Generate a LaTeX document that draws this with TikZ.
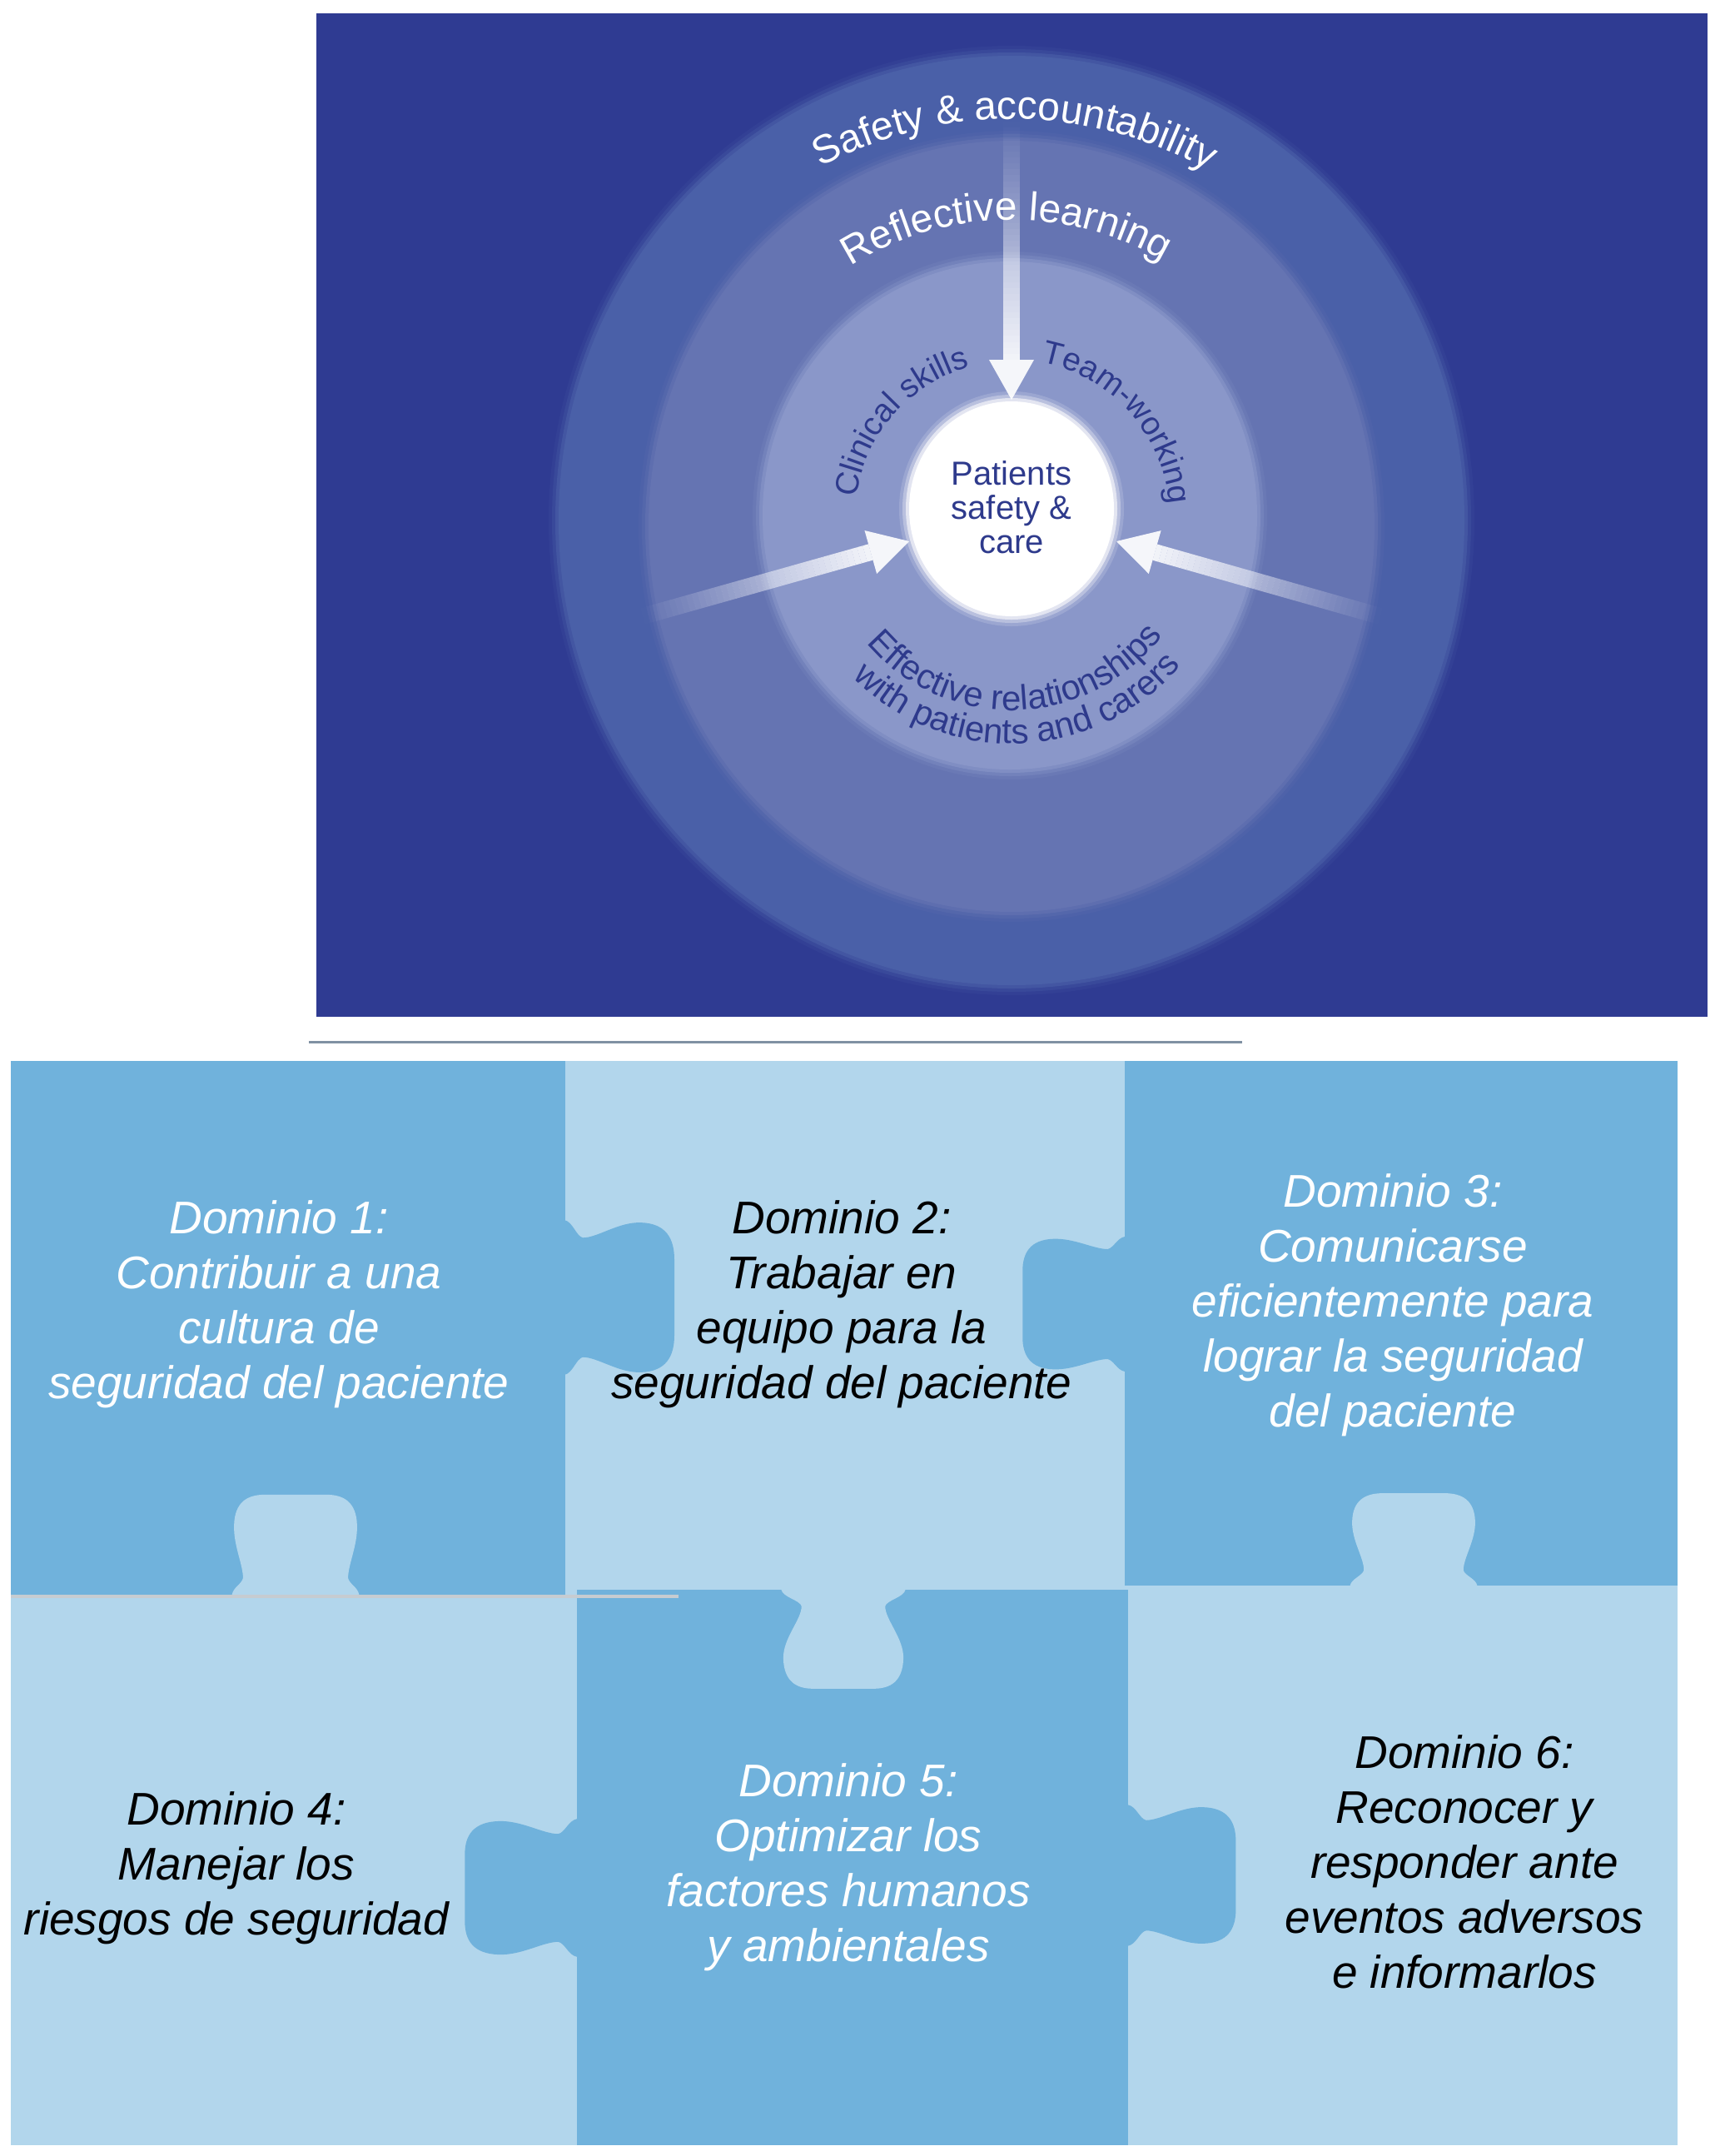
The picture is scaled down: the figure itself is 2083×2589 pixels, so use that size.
\documentclass[tikz,border=0pt]{standalone}
\usepackage{fontspec}
\setmainfont{Liberation Sans}
\usetikzlibrary{decorations.text,calc}
\definecolor{bgblue}{HTML}{2F3B92}
\definecolor{ringA}{HTML}{4A60A8}
\definecolor{ringB}{HTML}{6574B2}
\definecolor{ringC}{HTML}{8A97C9}
\definecolor{inkblue}{HTML}{2E3A8C}
\definecolor{pzmid}{HTML}{70B2DC}
\definecolor{pzlight}{HTML}{B2D6EC}
\definecolor{sepline}{HTML}{8091A3}
\definecolor{seamgray}{HTML}{C6CCD1}
\newcommand\softellipse[5]{%
  \foreach \d/\o in {12/0.15,8/0.3,4/0.6}{\fill[#5,opacity=\o] (#1,#2) ellipse [x radius=#3+\d, y radius=#4+\d];}
  \fill[#5] (#1,#2) ellipse [x radius=#3, y radius=#4];}
\newcommand\glowarrow[3]{%
  \coordinate (#1t) at #2;
  \coordinate (#1h) at #3;
  \coordinate (#1b) at ($(#1h)!48pt!(#1t)$);
  \foreach \k in {0,...,39}{%
    \pgfmathsetmacro\opa{0.9*((\k+0.5)/40)^1.1}
    \draw[white, line width=20pt, opacity=\opa] ($(#1t)!\k/40!(#1b)$) -- ($(#1t)!{(\k+1)/40}!(#1b)$);}
  \fill[white, opacity=0.92] (#1h) -- ($(#1b)!27pt!90:(#1h)$) -- ($(#1b)!27pt!-90:(#1h)$) -- cycle;}
\tikzset{
  x=1pt, y=1pt,
  knob/.pic={\fill[pic actions] (-6,92) -- (0,92) .. controls (10,90) and (14,#1+2) .. (22,#1)
     .. controls (40,#1) and (65,90) .. (92,89) .. controls (122,88) and (132,70) .. (132,45)
     -- (132,-45) .. controls (132,-70) and (122,-88) .. (92,-89)
     .. controls (65,-90) and (40,-#1) .. (22,-#1) .. controls (14,-#1-2) and (10,-90) .. (0,-92)
     -- (-6,-92) -- cycle;},
  outerarc/.style={decorate, decoration={text along path, text align=center, text color=white,
     text={|\fontsize{48}{58}\selectfont|#1}}},
  innerarc/.style={decorate, decoration={text along path, text align=center, text color=inkblue,
     text={|\fontsize{39}{46}\selectfont|#1}}},
  bottomarc/.style={decorate, decoration={text along path, text align=center, text color=inkblue,
     text={|\fontsize{42}{50}\selectfont|#1}}},
  pztext/.style={anchor=base, inner sep=0pt, font=\itshape\fontsize{55}{66}\selectfont},
}
\begin{document}
\begin{tikzpicture}
\useasboundingbox (0,0) rectangle (2083,-2589);
\fill[white] (0,0) rectangle (2083,-2589);
% ---------- top panel ----------
\fill[bgblue] (380,-16) rectangle (2051,-1221);
\softellipse{1215}{-625}{544}{558}{ringA}
\softellipse{1215}{-632}{436}{463}{ringB}
\softellipse{1213}{-619}{297}{305}{ringC}
\glowarrow{va}{(1215,-146)}{(1215,-480)}
\glowarrow{la}{(772,-740)}{(1092,-650)}
\glowarrow{ra}{(1658,-740)}{(1341,-650)}
\softellipse{1215}{-611}{123}{129}{white}
\node[anchor=base, inner sep=0pt, text=inkblue, font=\fontsize{40}{41}\selectfont] (core) at (1215,-582)
  {\begin{tabular}[t]{@{}c@{}}Patients\\safety \&\\care\end{tabular}};
\path[outerarc={Safety {\&} accountability}] (1215,-625) ++(165:482) arc[start angle=165, end angle=14, radius=482];
\path[outerarc={Reflective learning}] (1215,-625) ++(166:361) arc[start angle=166, end angle=16, radius=361];
\path[innerarc={Clinical skills}] (1215,-622) ++(215:188) arc[start angle=215, end angle=63, radius=188];
\path[innerarc={Team-working}] (1215,-622) ++(120:190) arc[start angle=120, end angle=-36, radius=190];
\path[bottomarc={Effective relationships}] (1215,-625) ++(-170:228) arc[start angle=-170, end angle=-7, radius=228];
\path[bottomarc={with patients and carers}] (1215,-625) ++(-170:268) arc[start angle=-170, end angle=-6, radius=268];
% ---------- separator ----------
\draw[sepline, line width=3pt] (371,-1251) -- (1492,-1251);
% ---------- puzzle ----------
\fill[pzlight] (13,-1274) rectangle (2015,-2576);
\fill[pzmid] (13,-1274) rectangle (679,-1915);
\fill[pzmid] (1351,-1274) rectangle (2015,-1904);
\fill[pzmid] (693,-1909) rectangle (1355,-2576);
\pic[fill=pzmid, xscale=1.0, yscale=1.01] at (678,-1558) {knob=71};
\pic[fill=pzmid, rotate=180, xscale=0.93, yscale=0.88] at (1351,-1566) {knob=75};
\pic[fill=pzmid, rotate=180, xscale=1.02, yscale=0.9] at (693,-2267) {knob=72};
\pic[fill=pzmid, xscale=0.98, yscale=0.92] at (1355,-2252) {knob=72};
\pic[fill=pzlight, rotate=90, xscale=0.91, yscale=0.83] at (355,-1915) {knob=76};
\pic[fill=pzlight, rotate=90, xscale=0.84, yscale=0.83] at (1698,-1904) {knob=72};
\pic[fill=pzlight, rotate=-90, xscale=0.9, yscale=0.81] at (1013,-1909) {knob=62};
\draw[seamgray, line width=4pt] (13,-1917) -- (815,-1917);
% ---------- texts ----------
\node[pztext, text=white] (d1) at (335,-1481)
  {\begin{tabular}[t]{@{}c@{}}Dominio 1:\\Contribuir a una\\cultura de\\seguridad del paciente\end{tabular}};
\node[pztext, text=black] (d2) at (1011,-1481)
  {\begin{tabular}[t]{@{}c@{}}Dominio 2:\\Trabajar en\\equipo para la\\seguridad del paciente\end{tabular}};
\node[pztext, text=white] (d3) at (1673,-1449)
  {\begin{tabular}[t]{@{}c@{}}Dominio 3:\\Comunicarse\\eficientemente para\\lograr la seguridad\\del paciente\end{tabular}};
\node[pztext, text=black] (d4) at (284,-2191)
  {\begin{tabular}[t]{@{}c@{}}Dominio 4:\\Manejar los\\riesgos de seguridad\end{tabular}};
\node[pztext, text=white] (d5) at (1019,-2157)
  {\begin{tabular}[t]{@{}c@{}}Dominio 5:\\Optimizar los\\factores humanos\\y ambientales\end{tabular}};
\node[pztext, text=black] (d6) at (1759,-2123)
  {\begin{tabular}[t]{@{}c@{}}Dominio 6:\\Reconocer y\\responder ante\\eventos adversos\\e informarlos\end{tabular}};
\end{tikzpicture}
\end{document}
